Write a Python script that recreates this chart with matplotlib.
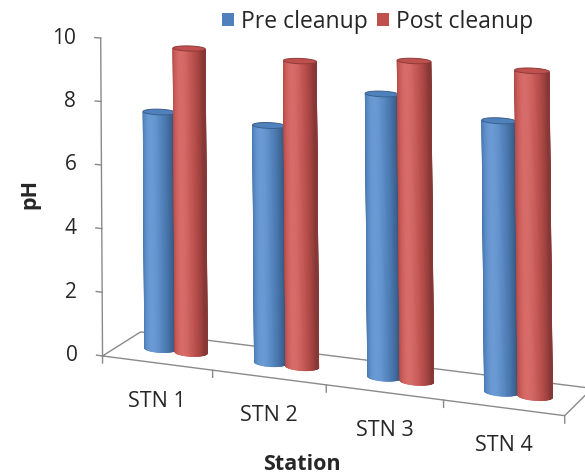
import numpy as np
import matplotlib
matplotlib.use('Agg')
import matplotlib.pyplot as plt
from matplotlib.collections import PolyCollection
from matplotlib.patches import Polygon, Patch
from matplotlib.colors import to_rgb

plt.rcParams['font.family'] = ['Open Sans', 'DejaVu Sans']

stations = ['STN 1', 'STN 2', 'STN 3', 'STN 4']
pre_cleanup = [7.5, 7.4, 8.7, 8.2]
post_cleanup = [9.6, 9.5, 9.8, 9.8]
ph_ticks = [0, 2, 4, 6, 8, 10]

series = [('Pre cleanup', pre_cleanup, '#4F81BD'),
          ('Post cleanup', post_cleanup, '#C0504D')]

# 3-D view: world is (category, depth, pH), camera gives figure pixels
CAMERA_YAW = -0.5155129843
CAMERA_PITCH = -0.03421036495
CAMERA_POS = (11.13124387, -30.68034242, 7.975607769)
FOCAL = 3622.964297
IMAGE_CENTRE = (-515.5462599, -674.6954273)
PH_SCALE = 0.2780938435

RADIUS = 0.14   # cylinder radius, in category widths
ROW = 0.5       # depth of the bar row on the floor
LIGHT = np.array([-0.2, -0.98]) / np.hypot(0.2, 0.98)
AXIS_GREY = '#8a8a8a'
TEXT = '#262626'


def make_view(yaw, pitch, pos, f, centre, s):
    c, sn = np.cos(yaw), np.sin(yaw)
    Rz = np.array([[c, -sn, 0], [sn, c, 0], [0, 0, 1]])
    B = np.array([[1, 0, 0], [0, 0, -1], [0, 1, 0]])
    cp, sp = np.cos(pitch), np.sin(pitch)
    Rx = np.array([[1, 0, 0], [0, cp, -sp], [0, sp, cp]])
    R = Rx @ B @ Rz
    K = np.array([[f, 0, centre[0]], [0, f, centre[1]], [0, 0, 1]])
    t = -R @ np.asarray(pos)
    return K @ np.c_[R @ np.diag([1, 1, s]), t]


VIEW = make_view(CAMERA_YAW, CAMERA_PITCH, CAMERA_POS, FOCAL, IMAGE_CENTRE, PH_SCALE)
camera = np.array([CAMERA_POS[0], CAMERA_POS[1], CAMERA_POS[2] / PH_SCALE])


def project(p):
    p = np.atleast_2d(np.asarray(p, float))
    h = np.c_[p, np.ones(len(p))] @ VIEW.T
    return h[:, :2] / h[:, 2:3]


def shade(base, t):
    b = np.array(to_rgb(base))
    d = max(t, 0.0)
    c = b * (0.7 + 0.38 * d) + (1 - b) * 0.12 * d ** 6
    return np.clip(c, 0, 1)


def draw_cylinder(ax, xc, height, color, z):
    n = 120
    th = np.linspace(0, 2 * np.pi, n + 1)
    ring = np.c_[xc + RADIUS * np.cos(th), ROW + RADIUS * np.sin(th)]
    bot = project(np.c_[ring, np.zeros(n + 1)])
    top = project(np.c_[ring, np.full(n + 1, height)])
    quads, cols = [], []
    for i in range(n):
        m = 0.5 * (th[i] + th[i + 1])
        nrm = np.array([np.cos(m), np.sin(m)])
        p = np.array([xc, ROW]) + RADIUS * nrm
        if nrm @ (camera[:2] - p) <= 0:   # back side, hidden
            continue
        quads.append([bot[i], bot[i + 1], top[i + 1], top[i]])
        cols.append(shade(color, nrm @ LIGHT))
    ax.add_collection(PolyCollection(quads, facecolors=cols, edgecolors=cols,
                                     linewidths=0.5, zorder=z))
    ax.add_patch(Polygon(top, closed=True, facecolor=color,
                         edgecolor=shade(color, 0.1), lw=0.7, zorder=z + 0.5))


fig = plt.figure(figsize=(5.85, 4.74), dpi=100)
ax = fig.add_axes([0, 0, 1, 1])
ax.set_xlim(0, 585)
ax.set_ylim(474, 0)
ax.axis('off')

n = len(stations)

# floor outline
floor = project([[0, 0, 0], [n, 0, 0], [n, 1, 0], [0, 1, 0], [0, 0, 0]])
ax.plot(floor[:, 0], floor[:, 1], color=AXIS_GREY, lw=1, zorder=1)

# category ticks and labels
for i in range(n + 1):
    t = project([[i, 0, 0], [i, 0, -0.22]])
    ax.plot(t[:, 0], t[:, 1], color=AXIS_GREY, lw=1, zorder=1)
for i, name in enumerate(stations):
    x, y = project([i + 0.5, 0, 0])[0]
    ax.text(x, y + 38, name, ha='center', va='center', fontsize=15.5, color=TEXT)

# pH axis
va = project([[0, 0, 0], [0, 0, max(ph_ticks)]])
ax.plot(va[:, 0], va[:, 1], color=AXIS_GREY, lw=1, zorder=1)
for v in ph_ticks:
    t = project([[0, 0, v], [-0.055, 0, v]])
    ax.plot(t[:, 0], t[:, 1], color=AXIS_GREY, lw=1, zorder=1)
    ax.text(t[0, 0] - 25, t[0, 1], str(v), ha='right', va='center',
            fontsize=15, color=TEXT)

# cylinders, farthest first
bars = []
for k, (label, vals, color) in enumerate(series):
    for i, v in enumerate(vals):
        xc = i + 0.5 + (k - 0.5) * 2 * RADIUS
        bars.append((np.hypot(camera[0] - xc, camera[1] - ROW), xc, v, color))
bars.sort(key=lambda b: -b[0])
for z, (_, xc, v, color) in enumerate(bars):
    draw_cylinder(ax, xc, v, color, 3 + z)

ax.text(30, 194, 'pH', rotation=90, ha='center', va='center',
        fontsize=15.5, fontweight='bold', color=TEXT)
ax.text(302, 464, 'Station', ha='center', va='center',
        fontsize=15.5, fontweight='bold', color=TEXT)

handles = [Patch(facecolor=c, edgecolor='none') for _, _, c in series]
ax.legend(handles, [s[0] for s in series], loc='center',
          bbox_to_anchor=(378 / 585, 1 - 22 / 474), ncol=2, frameon=False,
          fontsize=16.5, handlelength=0.5, handleheight=0.5, handletextpad=0.33,
          columnspacing=0.4, labelcolor=TEXT, borderpad=0.1)

fig.savefig('out.png', dpi=100)
